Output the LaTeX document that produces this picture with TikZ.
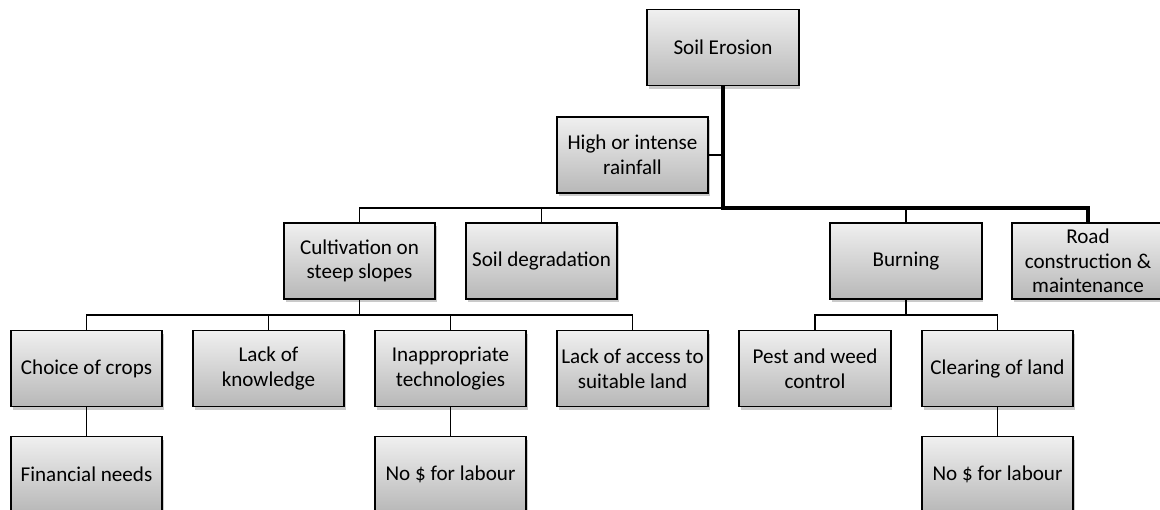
\documentclass[tikz,border=0pt]{standalone}
\usepackage{fontspec}
\setmainfont{Carlito}
\usetikzlibrary{shadows}
\begin{document}
\begin{tikzpicture}[x=0.025cm,y=-0.025cm,
  box/.style={draw, line width=1.3pt, rectangle, top color=black!6, bottom color=black!28,
    minimum width=3.78cm, minimum height=1.9cm, inner xsep=0.04cm, align=center,
    font=\fontsize{15}{17.5}\selectfont,
    drop shadow={shadow xshift=1.2pt, shadow yshift=-2.2pt, opacity=0.35, fill=black!60}},
  link/.style={draw, line width=1.3pt, -},
  mainlink/.style={draw, line width=3pt, -}]
\useasboundingbox (0,0) rectangle (1160,510);
\clip (0,0) rectangle (1160,510);
\node[box] (1) at (723,47.5) {Soil Erosion};
\node[box] (2) at (632.5,155) {High or intense\\rainfall};
\node[box] (3) at (359.5,261) {Cultivation on\\steep slopes};
\node[box] (4) at (541.5,261) {Soil degradation};
\node[box] (5) at (906,261) {Burning};
\node[box] (6) at (1088,261) {Road\\construction \&\\maintenance};
\node[box] (7) at (86.5,368.5) {Choice of crops};
\node[box] (8) at (268.5,368.5) {Lack of\\knowledge};
\node[box] (9) at (450.5,368.5) {Inappropriate\\technologies};
\node[box] (10) at (632.5,368.5) {Lack of access to\\suitable land};
\node[box] (11) at (815,368.5) {Pest and weed\\control};
\node[box] (12) at (997.5,368.5) {Clearing of land};
\node[box] (13) at (86.5,474.5) {Financial needs};
\node[box] (14) at (450.5,474.5) {No \$ for labour};
\node[box] (15) at (997.5,474.5) {No \$ for labour};
\coordinate (b1) at (723,208);
\coordinate (b2) at (359.5,315);
\coordinate (b3) at (906,315);
\path[link] (2.east) -- (2.east -| b1);
\path[link] (3.north) |- (b1);
\path[link] (4.north) -- (4.north |- b1);
\path[link] (5.north) |- (b1);
\path[link] (3.south) -- (b2);
\path[link] (b2) -| (7.north);
\path[link] (b2) -| (8.north);
\path[link] (b2) -| (9.north);
\path[link] (b2) -| (10.north);
\path[link] (5.south) -- (b3);
\path[link] (b3) -| (11.north);
\path[link] (b3) -| (12.north);
\path[link] (7) -- (13);
\path[link] (9) -- (14);
\path[link] (12) -- (15);
\path[mainlink] (1.south) -- (b1) -| (6.north);
\end{tikzpicture}
\end{document}
